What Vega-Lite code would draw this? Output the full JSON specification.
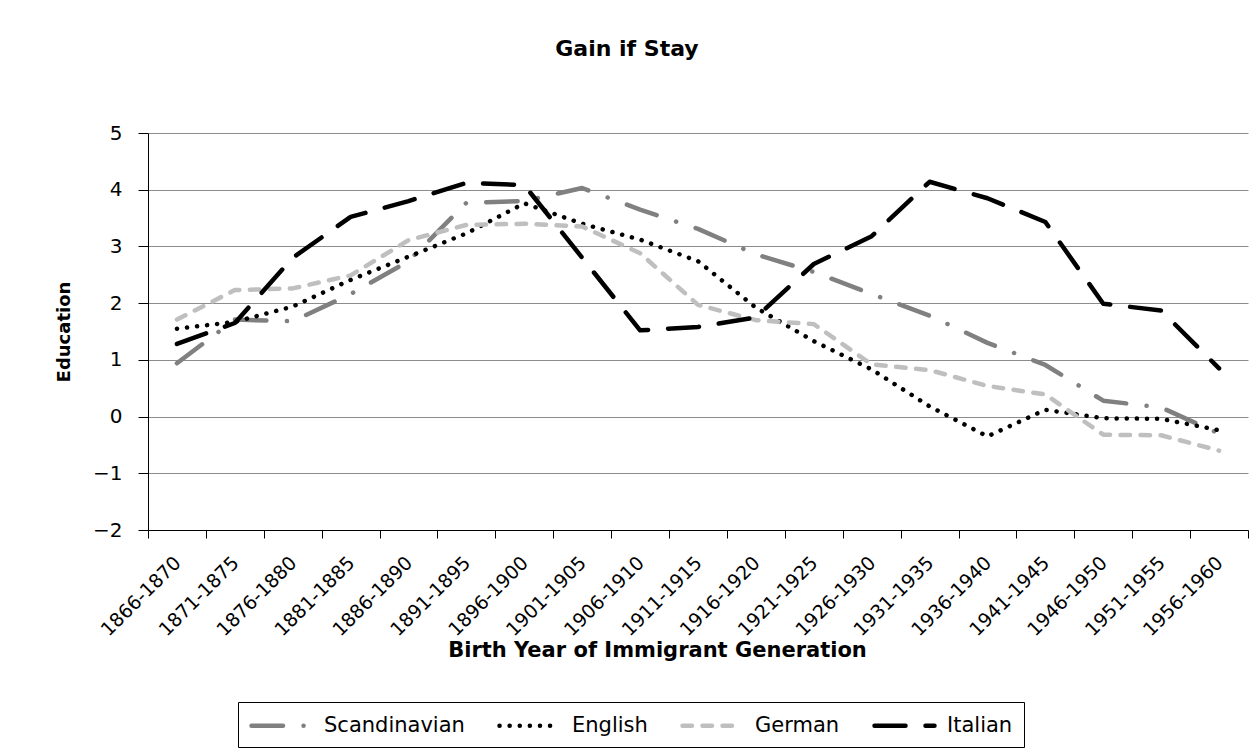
{
  "$schema": "https://vega.github.io/schema/vega-lite/v6.json",
  "width": 1100,
  "height": 397,
  "autosize": {"type": "none"},
  "padding": {"left": 148, "top": 133, "right": 7, "bottom": 221},
  "background": "#ffffff",
  "title": {
    "text": "Gain if Stay",
    "font": "DejaVu Sans",
    "fontSize": 22,
    "fontWeight": "bold",
    "color": "#000000",
    "anchor": "middle",
    "dx": -71,
    "offset": 62
  },
  "config": {
    "view": {"stroke": null},
    "font": "DejaVu Sans"
  },
  "data": {
    "values": [
      {"period": "1866-1870", "group": "Scandinavian", "value": 0.94},
      {"period": "1871-1875", "group": "Scandinavian", "value": 1.71},
      {"period": "1876-1880", "group": "Scandinavian", "value": 1.68},
      {"period": "1881-1885", "group": "Scandinavian", "value": 2.16},
      {"period": "1886-1890", "group": "Scandinavian", "value": 2.74},
      {"period": "1891-1895", "group": "Scandinavian", "value": 3.77},
      {"period": "1896-1900", "group": "Scandinavian", "value": 3.80},
      {"period": "1901-1905", "group": "Scandinavian", "value": 4.03},
      {"period": "1906-1910", "group": "Scandinavian", "value": 3.65},
      {"period": "1911-1915", "group": "Scandinavian", "value": 3.31},
      {"period": "1916-1920", "group": "Scandinavian", "value": 2.86},
      {"period": "1921-1925", "group": "Scandinavian", "value": 2.55},
      {"period": "1926-1930", "group": "Scandinavian", "value": 2.16},
      {"period": "1931-1935", "group": "Scandinavian", "value": 1.78},
      {"period": "1936-1940", "group": "Scandinavian", "value": 1.30},
      {"period": "1941-1945", "group": "Scandinavian", "value": 0.91},
      {"period": "1946-1950", "group": "Scandinavian", "value": 0.28},
      {"period": "1951-1955", "group": "Scandinavian", "value": 0.16},
      {"period": "1956-1960", "group": "Scandinavian", "value": -0.30},
      {"period": "1866-1870", "group": "English", "value": 1.55},
      {"period": "1871-1875", "group": "English", "value": 1.67},
      {"period": "1876-1880", "group": "English", "value": 1.94},
      {"period": "1881-1885", "group": "English", "value": 2.41},
      {"period": "1886-1890", "group": "English", "value": 2.82},
      {"period": "1891-1895", "group": "English", "value": 3.23},
      {"period": "1896-1900", "group": "English", "value": 3.76},
      {"period": "1901-1905", "group": "English", "value": 3.40},
      {"period": "1906-1910", "group": "English", "value": 3.12},
      {"period": "1911-1915", "group": "English", "value": 2.74},
      {"period": "1916-1920", "group": "English", "value": 1.92},
      {"period": "1921-1925", "group": "English", "value": 1.33},
      {"period": "1926-1930", "group": "English", "value": 0.83},
      {"period": "1931-1935", "group": "English", "value": 0.18},
      {"period": "1936-1940", "group": "English", "value": -0.35},
      {"period": "1941-1945", "group": "English", "value": 0.12},
      {"period": "1946-1950", "group": "English", "value": -0.03},
      {"period": "1951-1955", "group": "English", "value": -0.04},
      {"period": "1956-1960", "group": "English", "value": -0.24},
      {"period": "1866-1870", "group": "German", "value": 1.71},
      {"period": "1871-1875", "group": "German", "value": 2.23},
      {"period": "1876-1880", "group": "German", "value": 2.26},
      {"period": "1881-1885", "group": "German", "value": 2.49},
      {"period": "1886-1890", "group": "German", "value": 3.11},
      {"period": "1891-1895", "group": "German", "value": 3.38},
      {"period": "1896-1900", "group": "German", "value": 3.40},
      {"period": "1901-1905", "group": "German", "value": 3.35},
      {"period": "1906-1910", "group": "German", "value": 2.88},
      {"period": "1911-1915", "group": "German", "value": 1.97},
      {"period": "1916-1920", "group": "German", "value": 1.70},
      {"period": "1921-1925", "group": "German", "value": 1.63},
      {"period": "1926-1930", "group": "German", "value": 0.92},
      {"period": "1931-1935", "group": "German", "value": 0.82},
      {"period": "1936-1940", "group": "German", "value": 0.54},
      {"period": "1941-1945", "group": "German", "value": 0.39},
      {"period": "1946-1950", "group": "German", "value": -0.32},
      {"period": "1951-1955", "group": "German", "value": -0.33},
      {"period": "1956-1960", "group": "German", "value": -0.60},
      {"period": "1866-1870", "group": "Italian", "value": 1.28},
      {"period": "1871-1875", "group": "Italian", "value": 1.65},
      {"period": "1876-1880", "group": "Italian", "value": 2.80},
      {"period": "1881-1885", "group": "Italian", "value": 3.52},
      {"period": "1886-1890", "group": "Italian", "value": 3.80},
      {"period": "1891-1895", "group": "Italian", "value": 4.12},
      {"period": "1896-1900", "group": "Italian", "value": 4.08},
      {"period": "1901-1905", "group": "Italian", "value": 2.80},
      {"period": "1906-1910", "group": "Italian", "value": 1.52},
      {"period": "1911-1915", "group": "Italian", "value": 1.58},
      {"period": "1916-1920", "group": "Italian", "value": 1.75},
      {"period": "1921-1925", "group": "Italian", "value": 2.69},
      {"period": "1926-1930", "group": "Italian", "value": 3.18},
      {"period": "1931-1935", "group": "Italian", "value": 4.14},
      {"period": "1936-1940", "group": "Italian", "value": 3.85},
      {"period": "1941-1945", "group": "Italian", "value": 3.43},
      {"period": "1946-1950", "group": "Italian", "value": 1.99},
      {"period": "1951-1955", "group": "Italian", "value": 1.87},
      {"period": "1956-1960", "group": "Italian", "value": 0.85}
    ]
  },
  "mark": {"type": "line", "strokeWidth": 4.5, "strokeCap": "round", "strokeJoin": "round"},
  "encoding": {
    "x": {
      "field": "period",
      "type": "ordinal",
      "sort": null,
      "bandPosition": 0.5,
      "scale": {"type": "band", "paddingInner": 0, "paddingOuter": 0},
      "axis": {
        "title": "Birth Year of Immigrant Generation",
        "titleFont": "DejaVu Sans",
        "titleFontSize": 21,
        "titleFontWeight": "bold",
        "titleColor": "#000000",
        "titleX": 509,
        "titleY": 120,
        "titleAlign": "center",
        "titleBaseline": "middle",
        "labelAngle": -45,
        "labelFont": "DejaVu Sans",
        "labelFontSize": 19,
        "labelColor": "#000000",
        "labelPadding": 15,
        "labelOffset": -6,
        "tickBand": "extent",
        "tickSize": 8,
        "tickColor": "#000000",
        "domainColor": "#000000",
        "grid": false
      }
    },
    "y": {
      "field": "value",
      "type": "quantitative",
      "scale": {"domain": [-2, 5], "nice": false, "zero": false},
      "axis": {
        "title": "Education",
        "titleFont": "DejaVu Sans",
        "titleFontSize": 18,
        "titleFontWeight": "bold",
        "titleColor": "#000000",
        "titlePadding": 19,
        "values": [-2, -1, 0, 1, 2, 3, 4, 5],
        "labelFont": "DejaVu Sans",
        "labelFontSize": 20,
        "labelColor": "#000000",
        "labelPadding": 16,
        "tickSize": 10,
        "tickColor": "#000000",
        "domainColor": "#000000",
        "grid": true,
        "gridColor": "#8c8c8c",
        "gridWidth": 1
      }
    },
    "color": {
      "field": "group",
      "type": "nominal",
      "scale": {
        "domain": ["Scandinavian", "English", "German", "Italian"],
        "range": ["#808080", "#000000", "#bfbfbf", "#000000"]
      },
      "legend": {
        "title": null,
        "orient": "none",
        "legendX": 90,
        "legendY": 569,
        "direction": "horizontal",
        "symbolType": "M-3,0H3",
        "symbolSize": 400,
        "symbolOffset": 20,
        "symbolStrokeWidth": 4.5,
        "labelFont": "DejaVu Sans",
        "labelFontSize": 21,
        "labelColor": "#000000",
        "labelOffset": 30,
        "columnPadding": 25,
        "padding": 11,
        "strokeColor": "#000000",
        "fillColor": "#ffffff",
        "encode": {"symbols": {"update": {"strokeCap": {"value": "round"}}}}
      }
    },
    "strokeDash": {
      "field": "group",
      "type": "nominal",
      "scale": {
        "domain": ["Scandinavian", "English", "German", "Italian"],
        "range": [[31.5, 20.5, 0.1, 20.5], [0.1, 10], [9.5, 10.5], [31, 20]]
      },
      "legend": {
        "title": null,
        "orient": "none",
        "legendX": 90,
        "legendY": 569,
        "direction": "horizontal",
        "symbolType": "M-3,0H3",
        "symbolSize": 400,
        "symbolOffset": 20,
        "symbolStrokeWidth": 4.5,
        "labelFont": "DejaVu Sans",
        "labelFontSize": 21,
        "labelColor": "#000000",
        "labelOffset": 30,
        "columnPadding": 25,
        "padding": 11,
        "strokeColor": "#000000",
        "fillColor": "#ffffff",
        "encode": {"symbols": {"update": {"strokeCap": {"value": "round"}}}}
      }
    }
  }
}
